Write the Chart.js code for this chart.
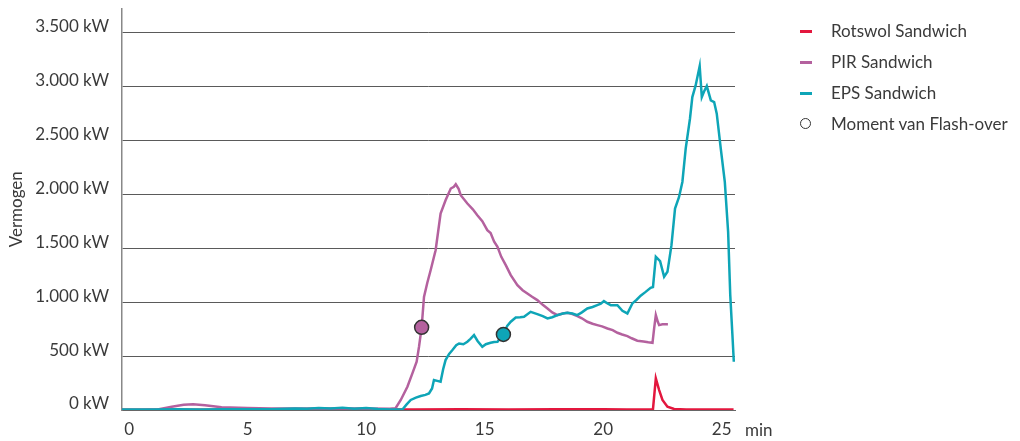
<!DOCTYPE html>
<html>
<head>
<meta charset="utf-8">
<script src="https://cdn.jsdelivr.net/npm/chart.js@4"></script>
<style>
    body { margin: 0; background: #fff; font-family: Lato, sans-serif; color: #3a3a3a; }
    #wrap { position: relative; width: 1020px; height: 441px; }
    #legend { position: absolute; left: 800px; top: 20px; font-size: 17px; }
    .item { position: relative; height: 31px; line-height: 22px; padding-left: 31px; }
    .dash { position: absolute; left: 0; top: 10px; width: 12px; height: 2.5px; }
    .ring { position: absolute; left: 0; top: 5px; width: 9px; height: 9px; border: 1.5px solid #333; border-radius: 50%; }
    #unit { position: absolute; left: 745px; top: 419px; font-size: 17px; }
</style>
</head>
<body>
<div id="wrap">
    <canvas id="chart" width="1020" height="441"></canvas>
    <div id="legend"></div>
    <div id="unit">min</div>
</div>
<script>
const xTicks = [0, 5, 10, 15, 20, 25];
const yTicks = [0, 500, 1000, 1500, 2000, 2500, 3000, 3500];

const seriesNames = ['Rotswol Sandwich', 'PIR Sandwich', 'EPS Sandwich'];
const flashLabel = 'Moment van Flash-over';

// minutes / kW
const rotT = [-0.3, 2, 4, 6, 8, 10, 12, 14, 16, 18, 20, 21, 22.1, 22.22, 22.36, 22.5, 22.71, 22.99, 23.5, 24.5, 25.5];
const rotV = [3, 3, 3, 4, 5, 4, 5, 6, 5, 7, 6, 5, 8, 293, 185, 93, 31, 9, 5, 5, 5];

const pirT = [-0.3, 0.5, 1.2, 1.8, 2.3, 2.7, 3.2, 3.9, 5, 6, 7, 8, 9, 10, 11, 11.24, 11.46, 11.74, 11.95, 12.13, 12.23, 12.34, 12.44, 12.58, 12.72, 12.93, 13.14, 13.35, 13.57, 13.7, 13.78, 13.9, 13.99, 14.27, 14.5, 14.69, 14.9, 15.11, 15.25, 15.4, 15.54, 15.7, 15.89, 16.1, 16.38, 16.6, 16.8, 17.0, 17.22, 17.45, 17.65, 17.85, 18.07, 18.3, 18.49, 18.7, 18.91, 19.1, 19.33, 19.55, 19.75, 19.95, 20.18, 20.4, 20.6, 20.8, 21.02, 21.2, 21.44, 21.7, 21.9, 22.08, 22.15, 22.22, 22.3, 22.36, 22.5, 22.73];
const pirV = [0, 0, 5, 30, 48, 53, 45, 25, 18, 15, 15, 14, 15, 13, 12, 16, 93, 216, 340, 447, 586, 766, 1049, 1180, 1296, 1481, 1821, 1944, 2053, 2070, 2093, 2050, 1991, 1914, 1860, 1806, 1750, 1667, 1640, 1560, 1512, 1420, 1343, 1250, 1157, 1110, 1080, 1050, 1019, 975, 941, 905, 880, 895, 901, 890, 870, 850, 818, 800, 787, 775, 756, 740, 716, 700, 685, 665, 642, 635, 628, 623, 760, 880, 820, 787, 795, 796];

const epsT = [-0.3, 1, 2, 3, 4, 5, 6, 7, 7.5, 8, 8.5, 9, 9.5, 10, 10.5, 11, 11.53, 11.7, 11.88, 12.1, 12.3, 12.5, 12.65, 12.78, 12.86, 13.0, 13.14, 13.25, 13.35, 13.5, 13.64, 13.8, 13.92, 14.1, 14.27, 14.4, 14.55, 14.7, 14.9, 15.05, 15.25, 15.4, 15.54, 15.79, 15.95, 16.1, 16.31, 16.5, 16.66, 16.94, 17.22, 17.45, 17.65, 17.85, 18.07, 18.3, 18.49, 18.7, 18.91, 19.1, 19.33, 19.55, 19.75, 19.9, 20.03, 20.2, 20.32, 20.6, 20.81, 21.02, 21.23, 21.4, 21.58, 21.79, 22.0, 22.1, 22.22, 22.4, 22.57, 22.71, 22.88, 23.03, 23.2, 23.34, 23.48, 23.66, 23.76, 23.9, 24.07, 24.16, 24.25, 24.37, 24.54, 24.68, 24.79, 24.96, 25.13, 25.27, 25.36, 25.45, 25.51];
const epsV = [5, 5, 6, 5, 6, 6, 8, 15, 12, 18, 15, 20, 12, 18, 10, 5, 5, 50, 93, 115, 130, 140, 154, 200, 278, 270, 262, 380, 463, 520, 556, 600, 617, 610, 633, 660, 694, 640, 586, 610, 623, 630, 633, 701, 780, 818, 858, 860, 864, 910, 889, 870, 849, 860, 880, 895, 901, 895, 880, 905, 941, 955, 972, 985, 1009, 985, 972, 972, 920, 895, 988, 1020, 1060, 1095, 1133, 1140, 1420, 1380, 1235, 1281, 1528, 1867, 1975, 2114, 2423, 2700, 2901, 3009, 3188, 2901, 2950, 3003, 2870, 2855, 2747, 2423, 2114, 1651, 1065, 700, 447];

// flash-over moments: PIR, EPS
const flashT = [12.34, 15.79];
const flashV = [766, 701];

const colors = ['#e3173e', '#b4619e', '#0ea5b7'];

function zip(ts, vs) {
    return ts.map((t, i) => ({ x: t, y: vs[i] }));
}

function fmtKW(v) {
    if (v >= 1000) {
        const rest = String(v % 1000).padStart(3, '0');
        return Math.floor(v / 1000) + '.' + rest + ' kW';
    }
    return v + ' kW';
}

// legend
const legend = document.getElementById('legend');
seriesNames.forEach((name, i) => {
    const row = document.createElement('div');
    row.className = 'item';
    row.innerHTML = '<span class="dash" style="background:' + colors[i] + '"></span>' + name;
    legend.appendChild(row);
});
const fRow = document.createElement('div');
fRow.className = 'item';
fRow.innerHTML = '<span class="ring"></span>' + flashLabel;
legend.appendChild(fRow);

const lineStyle = { borderWidth: 2.5, pointRadius: 0, tension: 0, fill: false };

new Chart(document.getElementById('chart'), {
    type: 'line',
    data: {
        datasets: [
            { ...lineStyle, label: seriesNames[0], data: zip(rotT, rotV), borderColor: colors[0], order: 3 },
            { ...lineStyle, label: seriesNames[1], data: zip(pirT, pirV), borderColor: colors[1], order: 2 },
            { ...lineStyle, label: seriesNames[2], data: zip(epsT, epsV), borderColor: colors[2], order: 1 },
            {
                label: flashLabel,
                data: zip(flashT, flashV),
                showLine: false,
                pointRadius: 7,
                pointBorderWidth: 1.5,
                pointBorderColor: '#333',
                pointBackgroundColor: [colors[1], colors[2]],
                order: 0
            }
        ]
    },
    options: {
        responsive: false,
        devicePixelRatio: 1,
        animation: false,
        layout: { padding: { left: 0, top: 8, right: 285, bottom: 0 } },
        plugins: { legend: { display: false }, tooltip: { enabled: false } },
        scales: {
            x: {
                type: 'linear',
                min: -0.3,
                max: 25.56,
                afterFit: (s) => { s.height = 31; s.paddingLeft = 0; s.paddingRight = 0; },
                afterBuildTicks: (s) => { s.ticks = xTicks.map(v => ({ value: v })); },
                grid: { display: false, drawTicks: false },
                border: { display: true, color: '#666', width: 1 },
                ticks: {
                    padding: 9,
                    color: '#3a3a3a',
                    font: { family: 'Lato', size: 17 },
                    maxRotation: 0
                }
            },
            y: {
                min: 0,
                max: 3722,
                afterFit: (s) => { s.width = 122; s.paddingTop = 0; s.paddingBottom = 0; },
                afterBuildTicks: (s) => { s.ticks = yTicks.map(v => ({ value: v })); },
                grid: { color: '#5a5a5a', lineWidth: 1, drawTicks: false },
                border: { display: true, color: '#888', width: 1.5 },
                ticks: {
                    padding: 13,
                    labelOffset: -6,
                    color: '#3a3a3a',
                    font: { family: 'Lato', size: 17 },
                    callback: (v) => fmtKW(v)
                },
                title: {
                    display: true,
                    text: 'Vermogen',
                    color: '#3a3a3a',
                    font: { family: 'Lato', size: 17 },
                    padding: 6
                }
            }
        }
    }
});
</script>
</body>
</html>
